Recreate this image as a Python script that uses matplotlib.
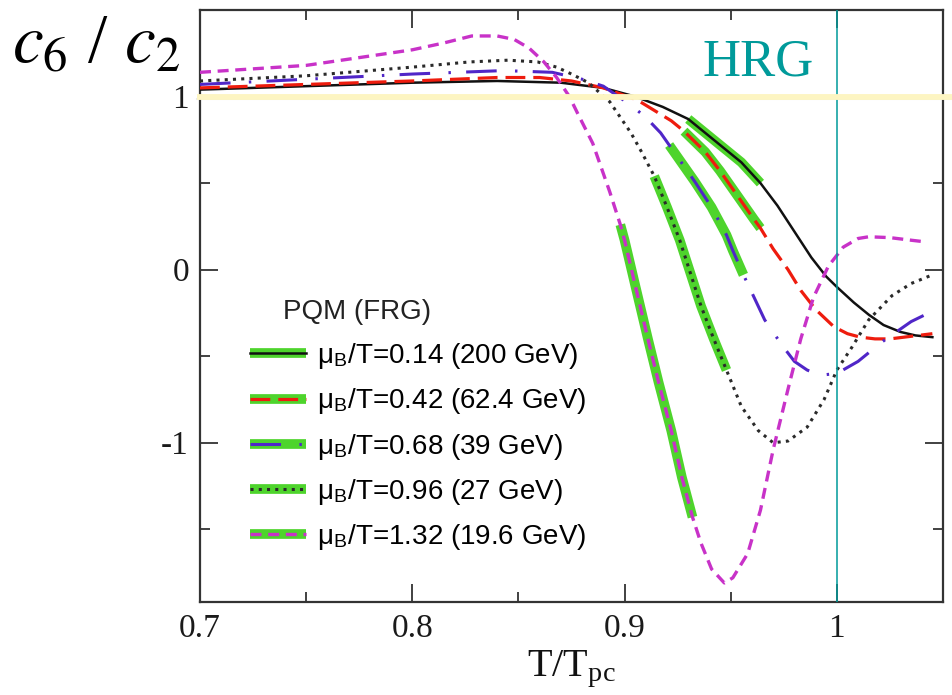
import matplotlib

matplotlib.use("Agg")
import matplotlib.pyplot as plt
import numpy as np
from matplotlib.lines import Line2D

# c6/c2 vs T/Tpc, PQM (FRG)
t_014 = [0.700, 0.750, 0.800, 0.840, 0.870, 0.890, 0.905, 0.918, 0.930, 0.945, 0.955,
         0.964, 0.972, 0.980, 0.988, 0.995, 1.000, 1.008, 1.015, 1.022, 1.030, 1.037, 1.045]
c_014 = [1.04, 1.06, 1.08, 1.09, 1.08, 1.05, 1.00, 0.94, 0.87, 0.72, 0.62,
         0.50, 0.37, 0.22, 0.07, -0.04, -0.10, -0.19, -0.26, -0.32, -0.36, -0.38, -0.39]

t_042 = [0.700, 0.750, 0.800, 0.840, 0.860, 0.875, 0.890, 0.906, 0.914, 0.922, 0.928, 0.938,
         0.945, 0.953, 0.961, 0.964, 0.970, 0.977, 0.983, 0.990, 0.9986, 1.005, 1.011, 1.018,
         1.025, 1.035, 1.045]
c_042 = [1.05, 1.07, 1.09, 1.11, 1.11, 1.09, 1.05, 0.98, 0.92, 0.86, 0.80, 0.68,
         0.57, 0.43, 0.29, 0.24, 0.12, 0.00, -0.12, -0.23, -0.33, -0.37, -0.39, -0.40,
         -0.40, -0.385, -0.37]

t_068 = [0.700, 0.750, 0.800, 0.843, 0.866, 0.880, 0.890, 0.903, 0.910, 0.917, 0.921, 0.925,
         0.933, 0.941, 0.948, 0.951, 0.956, 0.961, 0.966, 0.971, 0.975, 0.980, 0.986, 0.992,
         1.000, 1.010, 1.021, 1.035, 1.045]
c_068 = [1.07, 1.10, 1.13, 1.15, 1.14, 1.10, 1.06, 0.95, 0.88, 0.79, 0.72, 0.65,
         0.51, 0.36, 0.20, 0.11, -0.03, -0.16, -0.29, -0.38, -0.45, -0.53, -0.58, -0.61,
         -0.60, -0.53, -0.42, -0.30, -0.24]

t_096 = [0.700, 0.750, 0.800, 0.827, 0.845, 0.859, 0.868, 0.875, 0.883, 0.893, 0.903, 0.908,
         0.914, 0.920, 0.926, 0.931, 0.936, 0.942, 0.948, 0.955, 0.963, 0.970, 0.977, 0.986,
         0.994, 1.000, 1.007, 1.015, 1.026, 1.035, 1.045]
c_096 = [1.09, 1.12, 1.17, 1.20, 1.21, 1.20, 1.17, 1.13, 1.08, 0.97, 0.79, 0.68,
         0.54, 0.36, 0.17, -0.02, -0.21, -0.40, -0.58, -0.79, -0.93, -1.00, -0.99, -0.91,
         -0.75, -0.58, -0.45, -0.29, -0.15, -0.08, -0.03]

t_132 = [0.700, 0.750, 0.800, 0.815, 0.828, 0.840, 0.848, 0.855, 0.862, 0.868, 0.874, 0.878,
         0.885, 0.893, 0.898, 0.900, 0.905, 0.911, 0.916, 0.922, 0.927, 0.932, 0.936, 0.941,
         0.947, 0.951, 0.958, 0.964, 0.970, 0.977, 0.983, 0.989, 0.996, 1.003, 1.010, 1.015,
         1.025, 1.035, 1.042]
c_132 = [1.14, 1.18, 1.27, 1.31, 1.35, 1.35, 1.33, 1.28, 1.20, 1.11, 1.00, 0.90,
         0.73, 0.45, 0.26, 0.17, -0.09, -0.40, -0.65, -0.93, -1.20, -1.43, -1.58, -1.73,
         -1.81, -1.78, -1.64, -1.39, -1.04, -0.69, -0.40, -0.16, 0.02, 0.13, 0.18, 0.19,
         0.185, 0.17, 0.16]

labels = [
    "μ$_\\mathregular{B}$/T=0.14 (200 GeV)",
    "μ$_\\mathregular{B}$/T=0.42 (62.4 GeV)",
    "μ$_\\mathregular{B}$/T=0.68 (39 GeV)",
    "μ$_\\mathregular{B}$/T=0.96 (27 GeV)",
    "μ$_\\mathregular{B}$/T=1.32 (19.6 GeV)",
]
# green-marked stretch of every curve
green_from = [0.930, 0.928, 0.921, 0.914, 0.898]
green_to = [0.964, 0.964, 0.956, 0.948, 0.932]

x_ticks = [0.7, 0.8, 0.9, 1.0]
x_ticklabels = ["0.7", "0.8", "0.9", "1"]
y_ticks = [-1, 0, 1]
y_ticklabels = ["-1", "0", "1"]

styles = [
    dict(color="#111111", lw=1.8, linestyle="-"),
    dict(color="#ee1c0e", lw=2.3, dashes=(6.2, 2.5)),
    dict(color="#5026c8", lw=2.2, dashes=(10, 6, 0.8, 5)),
    dict(color="#2a2a2a", lw=2.2, dashes=(1.0, 1.7)),
    dict(color="#c832c8", lw=2.4, dashes=(3.3, 2.0)),
]
GREEN = "#4ed42c"
TEAL = "#009a9a"

plt.rcParams.update({
    "mathtext.fontset": "stix",
    "font.family": "Liberation Serif",
    "xtick.direction": "in",
    "ytick.direction": "in",
})

fig = plt.figure(figsize=(9.53, 6.95), dpi=100)
ax = fig.add_axes([200 / 953, 1 - 602 / 695, 743 / 953, 592 / 695])

curves = [(t_014, c_014), (t_042, c_042), (t_068, c_068), (t_096, c_096), (t_132, c_132)]
handles = []
for (t, c), st, g0, g1 in zip(curves, styles, green_from, green_to):
    t = np.asarray(t)
    c = np.asarray(c)
    m = (t >= g0 - 1e-9) & (t <= g1 + 1e-9)
    ax.plot(t[m], c[m], color=GREEN, lw=7, solid_capstyle="butt", zorder=2)
    ax.plot(t, c, zorder=3, **st)
    hg = Line2D([], [], color=GREEN, lw=7, solid_capstyle="butt")
    hl = Line2D([], [], **st)
    handles.append((hg, hl))

ax.axvline(1.0, color=TEAL, lw=1.1, zorder=4)

# pale yellow HRG line at 1, running past the frame to the right
ax.plot([-0.004, 1.02], [0.985, 0.985], transform=ax.get_yaxis_transform(),
        color="#c8c8c8", lw=1.5, alpha=0.4, clip_on=False, zorder=5)
ax.plot([-0.004, 1.02], [1.0, 1.0], transform=ax.get_yaxis_transform(),
        color="#fdf5c2", lw=4.2, solid_capstyle="butt", clip_on=False, zorder=6)

ax.set_xlim(0.7, 1.05)
ax.set_ylim(-1.92, 1.5)
ax.set_xticks(x_ticks)
ax.set_xticklabels(x_ticklabels)
ax.set_yticks(y_ticks)
ax.set_yticklabels(y_ticklabels)
ax.set_xticks(np.arange(0.75, 1.05, 0.1), minor=True)
ax.set_yticks([-1.5, -0.5, 0.5], minor=True)
ax.tick_params(which="both", top=True, right=True, width=1.3, color="#333333",
               labelsize=24, labelcolor="#1a1a1a", pad=8)
ax.tick_params(which="major", length=13)
ax.tick_params(which="minor", length=7)
for sp in ax.spines.values():
    sp.set_linewidth(1.6)
    sp.set_color("#333333")

ax.set_xlabel("T/T$_\\mathregular{pc}$", fontsize=29, labelpad=4, color="#111111")

leg = ax.legend(handles, labels, loc="upper left", frameon=False,
                bbox_to_anchor=(250 / 953, 1 - 341 / 695), bbox_transform=fig.transFigure,
                prop={"family": "Liberation Sans", "size": 20}, handlelength=2.0,
                handletextpad=0.4, labelspacing=0.55, borderpad=0, borderaxespad=0)
leg.set_zorder(7)
fig.text(283 / 953, 1 - 312 / 695, "PQM (FRG)", family="Liberation Sans", fontsize=20,
         va="center", ha="left", color="#222222")

fig.text(703 / 953, 1 - 75 / 695, "HRG", color=TEAL, fontsize=38, va="baseline", ha="left")
fig.text(12 / 953, 1 - 62 / 695, "$c_6$ / $c_2$", fontsize=50, va="baseline", ha="left",
         color="black")

fig.savefig("out.png", dpi=100)
